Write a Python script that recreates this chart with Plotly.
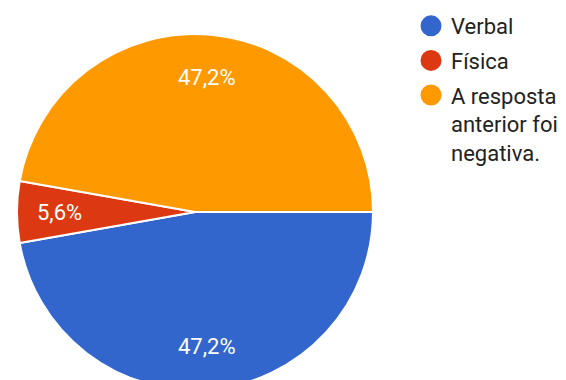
import math
import plotly.graph_objects as go

# Answer categories and response counts
labels = ["Verbal", "Física", "A resposta<br>anterior foi<br>negativa."]
counts = [17, 2, 17]
colors = ["#3366cc", "#dc3912", "#ff9900"]

W, H = 566, 400
TOP, BOTTOM = 34, 10
diam = H - TOP - BOTTOM
cx = 195
LABEL_R = 0.76  # radial position of the percentage labels (fraction of radius)

dom_x = [(cx - diam / 2) / W, (cx + diam / 2) / W]

fig = go.Figure()

fig.add_trace(go.Pie(
    labels=labels,
    values=counts,
    sort=False,
    direction="clockwise",
    rotation=90,
    marker=dict(colors=colors, line=dict(color="white", width=2)),
    textinfo="none",
    showlegend=False,
    hoverinfo="label+percent",
    domain=dict(x=dom_x, y=[0, 1]),
))

# Percentage labels placed at the middle angle of each slice
total = sum(counts)
pcx = (dom_x[0] + dom_x[1]) / 2
rx = (dom_x[1] - dom_x[0]) / 2
ry = 0.5
cum = 0
for v in counts:
    mid = (cum + v / 2) / total * 2 * math.pi
    cum += v
    ang = -mid  # clockwise from 3 o'clock
    pct = f"{100 * v / total:.1f}".replace(".", ",") + "%"
    fig.add_annotation(
        x=pcx + LABEL_R * rx * math.cos(ang),
        y=0.5 + LABEL_R * ry * math.sin(ang),
        xref="paper", yref="paper",
        xanchor="center", yanchor="middle",
        text=pct, showarrow=False,
        font=dict(family="Roboto", size=22, color="white"),
    )

# Legend entries drawn as round swatches
for i, (name, col) in enumerate(zip(labels, colors)):
    fig.add_trace(go.Scatter(
        x=[None], y=[None], mode="markers", name=name,
        legendgroup=f"g{i}",
        marker=dict(symbol="circle", size=16, color=col,
                    line=dict(color=col, width=7)),
    ))

fig.update_layout(
    width=W, height=H,
    margin=dict(l=0, r=0, t=TOP, b=BOTTOM),
    paper_bgcolor="white",
    plot_bgcolor="white",
    font=dict(family="Roboto", color="#222222"),
    xaxis=dict(visible=False),
    yaxis=dict(visible=False),
    legend=dict(
        x=411 / W, xanchor="left",
        y=1 + 29 / diam, yanchor="top",
        valign="top",
        tracegroupgap=3,
        font=dict(family="Roboto", size=22, color="#222222"),
        bgcolor="rgba(0,0,0,0)",
        itemclick=False,
    ),
)

fig.write_html("out.html")
